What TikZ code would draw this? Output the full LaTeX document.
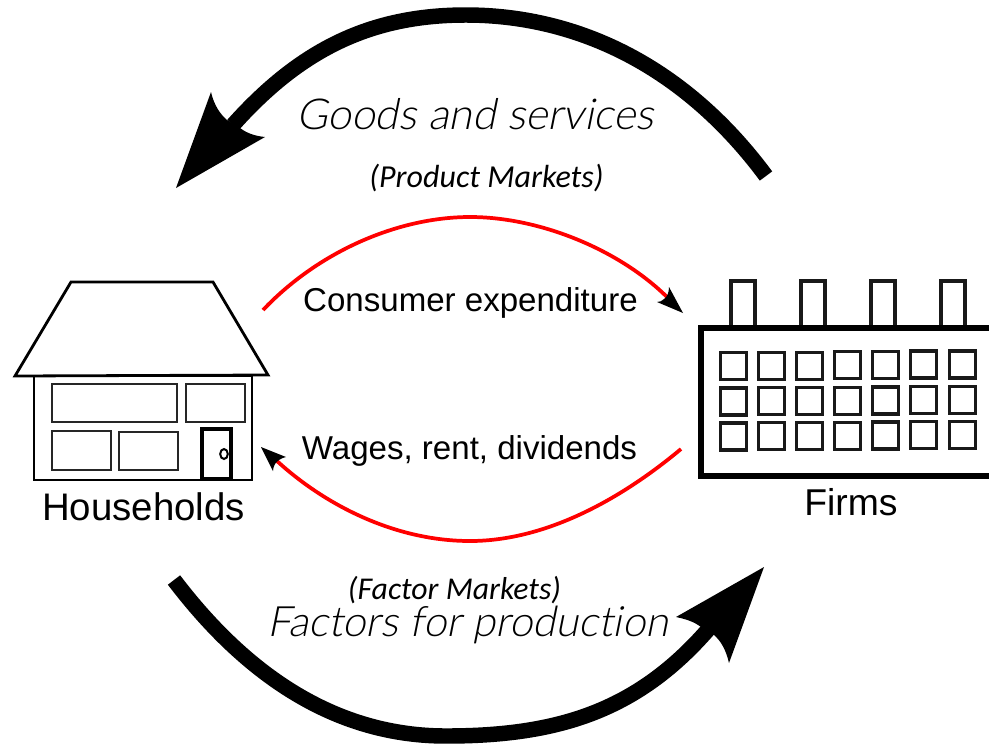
\documentclass[tikz,border=0pt]{standalone}
\usepackage{fontspec}
\setmainfont{Liberation Sans}
\newfontfamily\thinit[UprightFont={Lato Light},FakeSlant=0.2,Ligatures={NoCommon,NoRequired,NoContextual},LetterSpace=0]{Lato}
\newfontfamily\caliit[UprightFont={* Italic}]{Carlito}
\newcommand{\fsz}[1]{\fontsize{#1}{#1}\selectfont}
\tikzset{
 bigflow/.style={line width=11.6pt,draw=black},
 redflow/.style={line width=2.8pt,draw=red},
 wall/.style={line width=2.1pt,draw=black},
 thinwall/.style={line width=1.9pt,draw=black!85},
 doorline/.style={line width=2.6pt,draw=black},
 factline/.style={line width=3.8pt,draw=black},
 chim/.style={line width=2.3pt,draw=black!90},
 winbox/.style={line width=2.5pt,draw=black!90},
 head/.style={fill=black,draw=none},
 lab/.style={inner sep=0pt,outer sep=0pt,text=black},
}
\begin{document}
\begin{tikzpicture}[x=0.75pt,y=-0.75pt]
\useasboundingbox (0,0) rectangle (989,744);
% house
\draw[wall,line join=miter] (71,282) -- (213,282) -- (268,375) -- (15,376) -- cycle;
\draw[wall] (34,376) rectangle (252,480);
\draw[thinwall] (52,384) rectangle (177,422);
\draw[thinwall] (186,384) rectangle (245,422);
\draw[thinwall] (52,431) rectangle (111,470);
\draw[thinwall] (119,432) rectangle (178,470);
\draw[doorline] (202,429) rectangle (231,479);
\draw[line width=1.5pt] (224,454) ellipse [x radius=3.8,y radius=5];
% factory
\foreach \x in {731,801,871,941}{
  \draw[chim] (\x,327) -- (\x,281) -- (\x+24,281) -- (\x+24,327);
}
\draw[factline] (992,328) -- (701,328) -- (701,476) -- (992,476);
\foreach \x/\d in {733.5/0,771.5/0.3,809.5/0.3,847.5/0.7,885.5/1,923.5/1.6,962.5/1.6}{
  \foreach \y in {366,401.5,436.5}{
    \draw[winbox] (\x-13,\y-\d-13.5) rectangle (\x+13,\y-\d+13.5);
  }
}
% texts
\node[lab] (goods) at (475,114) {\thinit\fsz{32pt}Goods and services};
\node[lab] (prodm) at (486.5,178) {\caliit\fsz{24pt}(Product Markets)};
\node[lab] (factm) at (454.5,590) {\caliit\fsz{23.8pt}(Factor Markets)};
\node[lab] (factp) at (468,625) {\thinit\fsz{31.4pt}Factors for production};
\node[lab] (cons) at (470.5,303) {\fsz{24.8pt}Consumer expenditure};
\node[lab] (wages) at (469.5,451) {\fsz{24.8pt}Wages, rent, dividends};
\node[lab] (hh) at (143.5,507) {\fsz{28.8pt}Households};
\node[lab] (firms) at (851,502) {\fsz{28pt}Firms};
% big top arrow
\coordinate (tS) at (766,176);
\coordinate (tA) at (466,15);
\coordinate (tJ) at (233,125);
\draw[bigflow] (tS) .. controls (680,60) and (570,15) .. (tA) .. controls (370,15) and (300,50) .. (tJ);
\coordinate (tT) at (176,188);
\fill[head] (tT) -- (211,92) .. controls (214,105) and (220,114) .. (227,120) -- (240,128) .. controls (248,134) and (256,136) .. (265,137) -- cycle;
% big bottom arrow
\coordinate (bS) at (174,580);
\coordinate (bA) at (446,736);
\coordinate (bJ) at (712,625);
\draw[bigflow] (bS) .. controls (250,680) and (340,736) .. (bA) .. controls (560,736) and (640,710) .. (bJ);
\coordinate (bT) at (764,567);
\fill[head] (bT) -- (729,663) .. controls (726,650) and (721,641) .. (714,635) -- (701,627) .. controls (693,621) and (685,619) .. (676,617) -- cycle;
% red arrows
\coordinate (rS) at (263,310);
\coordinate (rA) at (470,217);
\coordinate (rJ) at (668,298);
\draw[redflow] (rS) .. controls (320,250) and (400,217) .. (rA) .. controls (540,217) and (620,250) .. (rJ);
\coordinate (rT) at (683,313);
\fill[head] (rT) -- (669,287) .. controls (669,293) and (667,297) .. (664,299) .. controls (662,301) and (660,302) .. (657,302) -- cycle;
\coordinate (lS) at (681,449);
\coordinate (lA) at (470,541);
\coordinate (lJ) at (277,461);
\draw[redflow] (lS) .. controls (620,500) and (545,541) .. (lA) .. controls (395,541) and (325,505) .. (lJ);
\coordinate (lT) at (261,447);
\fill[head] (lT) -- (286,457) .. controls (281,458) and (277,461) .. (275,464) .. controls (274,466) and (273,468) .. (273,471) -- cycle;
\end{tikzpicture}
\end{document}
